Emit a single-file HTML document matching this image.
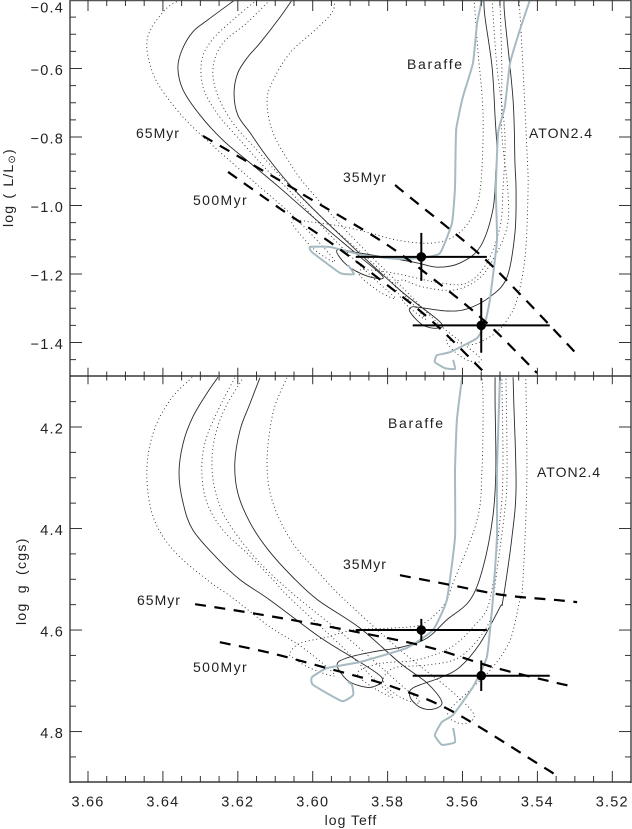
<!DOCTYPE html>
<html>
<head>
<meta charset="utf-8">
<title>log Teff diagrams</title>
<style>
html,body{margin:0;padding:0;background:#fff;}
svg{display:block;}
text{font-family:"Liberation Sans",sans-serif;fill:#222;font-size:14px;letter-spacing:1px;}
text.tick{font-size:14.5px;letter-spacing:1.2px;}
</style>
</head>
<body>
<svg id="chart" xmlns="http://www.w3.org/2000/svg" width="632" height="829" viewBox="0 0 632 829">
  <defs>
    <clipPath id="clip-top"><rect x="70" y="0" width="561" height="376"></rect></clipPath>
    <clipPath id="clip-bot"><rect x="70" y="376" width="561" height="406"></rect></clipPath>
  </defs>
  <rect x="0" y="0" width="632" height="829" fill="#fff"></rect>
  <g id="top-curves" clip-path="url(#clip-top)"></g>
  <g id="bot-curves" clip-path="url(#clip-bot)"></g>
  <g id="axes"></g>
  <g id="errors"></g>
  <g id="ticklabels"></g>

  <text transform="translate(13,227) rotate(-90)" style="letter-spacing:1.2px;word-spacing:1px">log ( L/L<tspan font-size="10" dy="2">⊙</tspan><tspan dy="-2">)</tspan></text>
  <text transform="translate(26,625) rotate(-90)" style="letter-spacing:1.3px;word-spacing:4px">log g (cgs)</text>
  <text x="351" y="825" text-anchor="middle">log Teff</text>

  <text x="407" y="69" style="letter-spacing:1.7px">Baraffe</text>
  <text x="529" y="138">ATON2.4</text>
  <text x="343" y="182">35Myr</text>
  <text x="136" y="138">65Myr</text>
  <text x="193" y="205" style="letter-spacing:1.4px">500Myr</text>
  <text x="388" y="428" style="letter-spacing:1.7px">Baraffe</text>
  <text x="537" y="477">ATON2.4</text>
  <text x="343" y="569">35Myr</text>
  <text x="137" y="605">65Myr</text>
  <text x="193" y="672" style="letter-spacing:1.4px">500Myr</text>
</svg>
<script>
// ---- Tick labels
const xTickValues = [3.66, 3.64, 3.62, 3.60, 3.58, 3.56, 3.54, 3.52];
const yTopTickValues = [-0.4, -0.6, -0.8, -1.0, -1.2, -1.4];
const yBotTickValues = [4.2, 4.4, 4.6, 4.8];

// ---- Observed stars
const starTeff = [3.571, 3.555];
const starTeffErr = [0.0175, 0.0183];
const starLogL = [-1.15, -1.35];
const starLogLErr = [0.07, 0.08];
const starLogG = [4.60, 4.69];
const starLogGErr = [0.022, 0.03];

// ---- Top panel: [log Teff, log L]
const topSolid1 = [[3.6208,-.4],[3.6280,-.458],[3.6320,-.493],[3.6349,-.546],[3.6360,-.599],[3.6346,-.663],[3.6301,-.736],[3.6240,-.809],[3.6167,-.876],[3.6087,-.949],[3.5981,-1.051],[3.5879,-1.145],[3.5812,-1.209],[3.5855,-1.206],[3.5909,-1.174],[3.5935,-1.130],[3.5874,-1.139],[3.5732,-1.165],[3.5668,-1.180],[3.5607,-1.168],[3.5553,-1.121],[3.5519,-1.013],[3.5511,-.896],[3.5508,-.838],[3.5513,-.742],[3.5521,-.596],[3.5540,-.450],[3.5543,-.4]];
const topSolid2 = [[3.6055,-.4],[3.6087,-.450],[3.6141,-.526],[3.6173,-.566],[3.6200,-.613],[3.6210,-.672],[3.6200,-.736],[3.6167,-.788],[3.6122,-.858],[3.6053,-.949],[3.5927,-1.086],[3.5767,-1.247],[3.5660,-1.340],[3.5668,-1.358],[3.5706,-1.349],[3.5740,-1.311],[3.5735,-1.296],[3.5706,-1.299],[3.5642,-1.308],[3.5588,-1.302],[3.5527,-1.267],[3.5481,-1.209],[3.5460,-1.080],[3.5457,-.955],[3.5460,-.876],[3.5465,-.692],[3.5487,-.450],[3.5489,-.4]];
const topDotted1 = [[3.6354,-.4],[3.6389,-.423],[3.6429,-.479],[3.6443,-.526],[3.6434,-.590],[3.6408,-.654],[3.6346,-.742],[3.6274,-.818],[3.6202,-.888],[3.6141,-.946],[3.6061,-1.022],[3.5981,-1.110],[3.5941,-1.165],[3.5994,-1.130],[3.6047,-1.066],[3.6053,-1.042],[3.6007,-1.048],[3.5927,-1.060],[3.5847,-1.080],[3.5775,-1.101],[3.5687,-1.110],[3.5625,-1.092],[3.5580,-1.042],[3.5553,-.955],[3.5545,-.742],[3.5559,-.546],[3.5569,-.4]];
const topDotted2 = [[3.6149,-.4],[3.6213,-.458],[3.6269,-.517],[3.6296,-.575],[3.6293,-.654],[3.6256,-.730],[3.6194,-.809],[3.6122,-.896],[3.6069,-.949],[3.5954,-1.086],[3.5847,-1.203],[3.5780,-1.270],[3.5820,-1.253],[3.5868,-1.212],[3.5874,-1.188],[3.5786,-1.197],[3.5660,-1.226],[3.5588,-1.226],[3.5535,-1.168],[3.5500,-1.063],[3.5492,-.955],[3.5487,-.788],[3.5508,-.596],[3.5521,-.4]];
const topDotted3 = [[3.6114,-.4],[3.6176,-.467],[3.6240,-.526],[3.6266,-.596],[3.6256,-.672],[3.6213,-.759],[3.6149,-.838],[3.6069,-.934],[3.5954,-1.057],[3.5820,-1.188],[3.5700,-1.329],[3.5754,-1.285],[3.5780,-1.232],[3.5759,-1.218],[3.5706,-1.238],[3.5625,-1.247],[3.5561,-1.218],[3.5519,-1.159],[3.5481,-1.063],[3.5479,-.955],[3.5495,-.788],[3.5495,-.596],[3.5500,-.4]];
const topDotted4 = [[3.5941,-.4],[3.5949,-.438],[3.5999,-.493],[3.6061,-.555],[3.6109,-.642],[3.6122,-.701],[3.6106,-.788],[3.6061,-.876],[3.6015,-.946],[3.5900,-1.086],[3.5767,-1.232],[3.5660,-1.349],[3.5553,-1.445],[3.5580,-1.454],[3.5620,-1.428],[3.5642,-1.393],[3.5580,-1.407],[3.5519,-1.378],[3.5481,-1.334],[3.5455,-1.276],[3.5433,-1.150],[3.5425,-.955],[3.5428,-.838],[3.5441,-.546],[3.5449,-.4]];
const topGray1 = [[3.5548,-.4],[3.5561,-.467],[3.5572,-.584],[3.5599,-.683],[3.5617,-.780],[3.5620,-.946],[3.5628,-1.051],[3.5660,-1.139],[3.5706,-1.153],[3.5775,-1.156],[3.5866,-1.145],[3.5954,-1.121],[3.6007,-1.121],[3.6002,-1.136],[3.5927,-1.197],[3.5890,-1.200],[3.5906,-1.174]];
const topGray2 = [[3.5420,-.4],[3.5447,-.488],[3.5473,-.584],[3.5487,-.712],[3.5505,-.788],[3.5511,-.955],[3.5508,-1.101],[3.5527,-1.276],[3.5540,-1.343],[3.5561,-1.387],[3.5633,-1.428],[3.5668,-1.437],[3.5674,-1.457],[3.5647,-1.475],[3.5620,-1.477],[3.5625,-1.451]];
const topIso35 = [[3.5780,-.940],[3.5748,-.969],[3.5561,-1.136],[3.5439,-1.267],[3.5300,-1.428]];
const topIso65 = [[3.6293,-.797],[3.6053,-.949],[3.6015,-.975],[3.5812,-1.107],[3.5668,-1.223],[3.5535,-1.343],[3.5401,-1.489]];
const topIso500 = [[3.6226,-.902],[3.6173,-.943],[3.6074,-1.019],[3.5954,-1.107],[3.5812,-1.223],[3.5679,-1.340],[3.5535,-1.495]];

// ---- Bottom panel: [log Teff, log g]
const botSolid1 = [[3.6253,4.102],[3.6282,4.133],[3.6320,4.180],[3.6346,4.232],[3.6357,4.291],[3.6346,4.350],[3.6320,4.403],[3.6256,4.458],[3.6194,4.501],[3.6114,4.541],[3.5981,4.614],[3.5892,4.655],[3.5815,4.694],[3.5839,4.712],[3.5874,4.710],[3.5909,4.698],[3.5935,4.669],[3.5909,4.655],[3.5839,4.643],[3.5759,4.633],[3.5695,4.616],[3.5642,4.580],[3.5580,4.541],[3.5545,4.476],[3.5519,4.377],[3.5511,4.285],[3.5513,4.153],[3.5513,4.102]];
const botSolid2 = [[3.6141,4.103],[3.6167,4.153],[3.6194,4.206],[3.6208,4.271],[3.6200,4.330],[3.6167,4.389],[3.6119,4.442],[3.6053,4.496],[3.5986,4.541],[3.5874,4.596],[3.5767,4.665],[3.5695,4.704],[3.5655,4.742],[3.5679,4.756],[3.5714,4.752],[3.5740,4.732],[3.5732,4.714],[3.5660,4.694],[3.5607,4.673],[3.5553,4.626],[3.5500,4.555],[3.5492,4.541],[3.5468,4.417],[3.5457,4.318],[3.5463,4.153],[3.5465,4.102]];
const botDotted1 = [[3.6322,4.102],[3.6381,4.147],[3.6426,4.212],[3.6443,4.291],[3.6426,4.377],[3.6373,4.442],[3.6282,4.501],[3.6213,4.537],[3.6114,4.594],[3.6026,4.635],[3.5941,4.689],[3.6007,4.675],[3.6055,4.653],[3.6061,4.645],[3.6034,4.626],[3.5962,4.614],[3.5892,4.600],[3.5786,4.596],[3.5714,4.590],[3.5668,4.566],[3.5642,4.541],[3.5625,4.507],[3.5561,4.383],[3.5548,4.285],[3.5545,4.153],[3.5548,4.102]];
const botDotted2 = [[3.6208,4.103],[3.6256,4.172],[3.6288,4.232],[3.6296,4.291],[3.6282,4.350],[3.6240,4.403],[3.6176,4.448],[3.6106,4.501],[3.6061,4.537],[3.5927,4.629],[3.5834,4.698],[3.5786,4.732],[3.5828,4.718],[3.5874,4.694],[3.5874,4.679],[3.5812,4.665],[3.5722,4.659],[3.5633,4.635],[3.5572,4.594],[3.5527,4.541],[3.5500,4.383],[3.5492,4.285],[3.5495,4.102]];
const botDotted3 = [[3.6189,4.107],[3.6240,4.172],[3.6266,4.239],[3.6266,4.304],[3.6240,4.369],[3.6186,4.429],[3.6122,4.482],[3.6039,4.537],[3.5900,4.620],[3.5780,4.698],[3.5714,4.742],[3.5762,4.734],[3.5807,4.708],[3.5807,4.689],[3.5775,4.673],[3.5695,4.669],[3.5607,4.653],[3.5535,4.594],[3.5519,4.541],[3.5508,4.482],[3.5487,4.364],[3.5481,4.285],[3.5484,4.102]];
const botDotted4 = [[3.6069,4.103],[3.6106,4.172],[3.6122,4.271],[3.6106,4.350],[3.6053,4.429],[3.5973,4.496],[3.5914,4.541],[3.5767,4.639],[3.5633,4.718],[3.5572,4.763],[3.5580,4.781],[3.5612,4.783],[3.5639,4.763],[3.5580,4.718],[3.5519,4.673],[3.5473,4.620],[3.5447,4.541],[3.5441,4.527],[3.5433,4.417],[3.5428,4.285],[3.5431,4.102]];
const botGray1 = [[3.5601,4.102],[3.5615,4.186],[3.5620,4.285],[3.5620,4.417],[3.5642,4.541],[3.5679,4.600],[3.5748,4.635],[3.5874,4.663],[3.5962,4.675],[3.6002,4.693],[3.5999,4.708],[3.5922,4.740],[3.5892,4.728],[3.5895,4.708],[3.5906,4.702]];
const botGray2 = [[3.5500,4.102],[3.5508,4.285],[3.5508,4.417],[3.5519,4.541],[3.5535,4.653],[3.5572,4.712],[3.5625,4.767],[3.5655,4.781],[3.5674,4.807],[3.5655,4.826],[3.5620,4.821],[3.5625,4.793]];
const botIso35 = [[3.5767,4.492],[3.5633,4.511],[3.5492,4.531],[3.5348,4.541],[3.5294,4.545]];
const botIso65 = [[3.6314,4.549],[3.6135,4.570],[3.5909,4.600],[3.5695,4.633],[3.5519,4.673],[3.5361,4.702],[3.5313,4.710]];
const botIso500 = [[3.6248,4.624],[3.6114,4.645],[3.5962,4.675],[3.5786,4.712],[3.5625,4.761],[3.5393,4.866],[3.5350,4.886]];

// ---- Axis scales
function xPos(t){ return (3.6835 - t) * 3745; }
function yTop(l){ return (-0.4 - l) * 342.5; }
function yBot(g){ return 427 + (g - 4.2) * 507.6; }

const NS = 'http://www.w3.org/2000/svg';
function mk(tag, parent, attrs){
  const el = document.createElementNS(NS, tag);
  for (const k in attrs) el.setAttribute(k, attrs[k]);
  parent.appendChild(el);
  return el;
}
function smoothPath(pts, div){
  let d = 'M' + pts[0][0].toFixed(2) + ' ' + pts[0][1].toFixed(2);
  for (let i = 0; i < pts.length - 1; i++){
    const p0 = pts[Math.max(i-1,0)], p1 = pts[i], p2 = pts[i+1], p3 = pts[Math.min(i+2,pts.length-1)];
    const c1x = p1[0] + (p2[0]-p0[0])/div, c1y = p1[1] + (p2[1]-p0[1])/div;
    const c2x = p2[0] - (p3[0]-p1[0])/div, c2y = p2[1] - (p3[1]-p1[1])/div;
    d += 'C' + c1x.toFixed(2) + ' ' + c1y.toFixed(2) + ' ' + c2x.toFixed(2) + ' ' + c2y.toFixed(2) + ' ' + p2[0].toFixed(2) + ' ' + p2[1].toFixed(2);
  }
  return d;
}
const STYLES = {
  solid: {stroke:'#2a2a2a','stroke-width':0.9,fill:'none'},
  dotted:{stroke:'#2a2a2a','stroke-width':0.9,fill:'none','stroke-dasharray':'1 2.8'},
  gray:  {stroke:'#a6bac2','stroke-width':2,fill:'none','stroke-linejoin':'round'},
  iso:   {stroke:'#000','stroke-width':2.2,fill:'none','stroke-dasharray':'11 8.5'}
};
const TIGHTNESS = {solid:6, dotted:6, gray:14, iso:6};
function drawSeries(parent, name, data, yFn, style){
  const el = mk('path', parent, Object.assign({d: smoothPath(data.map(function(p){ return [xPos(p[0]), yFn(p[1])]; }), TIGHTNESS[style])}, STYLES[style]));
  
  
}
const topG = document.getElementById('top-curves');
const botG = document.getElementById('bot-curves');
drawSeries(topG,'top-dotted-track-1',topDotted1,yTop,'dotted');
drawSeries(topG,'top-dotted-track-2',topDotted2,yTop,'dotted');
drawSeries(topG,'top-dotted-track-3',topDotted3,yTop,'dotted');
drawSeries(topG,'top-dotted-track-4',topDotted4,yTop,'dotted');
drawSeries(topG,'top-solid-track-1',topSolid1,yTop,'solid');
drawSeries(topG,'top-solid-track-2',topSolid2,yTop,'solid');
drawSeries(topG,'top-baraffe-track-1',topGray1,yTop,'gray');
drawSeries(topG,'top-baraffe-track-2',topGray2,yTop,'gray');
drawSeries(topG,'top-isochrone-35myr',topIso35,yTop,'iso');
drawSeries(topG,'top-isochrone-65myr',topIso65,yTop,'iso');
drawSeries(topG,'top-isochrone-500myr',topIso500,yTop,'iso');
drawSeries(botG,'bottom-dotted-track-1',botDotted1,yBot,'dotted');
drawSeries(botG,'bottom-dotted-track-2',botDotted2,yBot,'dotted');
drawSeries(botG,'bottom-dotted-track-3',botDotted3,yBot,'dotted');
drawSeries(botG,'bottom-dotted-track-4',botDotted4,yBot,'dotted');
drawSeries(botG,'bottom-solid-track-1',botSolid1,yBot,'solid');
drawSeries(botG,'bottom-solid-track-2',botSolid2,yBot,'solid');
drawSeries(botG,'bottom-baraffe-track-1',botGray1,yBot,'gray');
drawSeries(botG,'bottom-baraffe-track-2',botGray2,yBot,'gray');
drawSeries(botG,'bottom-isochrone-35myr',botIso35,yBot,'iso');
drawSeries(botG,'bottom-isochrone-65myr',botIso65,yBot,'iso');
drawSeries(botG,'bottom-isochrone-500myr',botIso500,yBot,'iso');

// ---- Observed points with error bars
const errG = document.getElementById('errors');
function drawStar(i, yFn, yVals, yErr, panel){
  const cx = xPos(starTeff[i]), cy = yFn(yVals[i]);
  const h = mk('line', errG, {x1:xPos(starTeff[i]+starTeffErr[i]), x2:xPos(starTeff[i]-starTeffErr[i]), y1:cy, y2:cy, stroke:'#000','stroke-width':2});
  
  
  const v = mk('line', errG, {x1:cx, x2:cx, y1:yFn(yVals[i]+yErr[i]), y2:yFn(yVals[i]-yErr[i]), stroke:'#000','stroke-width':2});
  
  
  const c = mk('circle', errG, {cx:cx, cy:cy, r:4.8, fill:'#000'});
  
  
}
for (let i = 0; i < starTeff.length; i++){
  drawStar(i, yTop, starLogL, starLogLErr, 'top');
  drawStar(i, yBot, starLogG, starLogGErr, 'bottom');
}

// ---- Axes and ticks
const axG = document.getElementById('axes');
const PL = 70, PR = 631, PT = 0.5, PM = 376, PB = 782;
function axLine(name, x1, y1, x2, y2, col, w){
  const l = mk('line', axG, {x1:x1, y1:y1, x2:x2, y2:y2, stroke:col, 'stroke-width':w});
  
  
}
axLine('left-axis', PL, 0, PL, PB+1, '#777', 2);
axLine('right-axis', PR, 0, PR, PB+1, '#777', 2);
axLine('top-axis', PL, PT, PR, PT, '#555', 1.5);
axLine('middle-axis', PL, PM, PR, PM, '#111', 1.3);
axLine('bottom-axis', PL, PB, PR, PB, '#111', 1.3);
const tickCol = '#333';
for (let k = 0; k <= 30; k++){
  const t = 3.66 - k * 0.005;
  const major = k % 4 === 0;
  const x = xPos(t);
  const len = major ? 11 : 6;
  if (x > PR) continue;
  axLine('x-tick-top', x, 0, x, len, tickCol, 1);
  axLine('x-tick-middle-up', x, PM - len*0.75, x, PM, tickCol, 1);
  axLine('x-tick-middle-down', x, PM, x, PM + len*0.75, tickCol, 1);
  axLine('x-tick-bottom', x, PB - len, x, PB, tickCol, 1);
}
for (let k = 1; k <= 21; k++){
  const y = yTop(-0.4 - k * 0.05);
  if (y >= PM) break;
  const len = k % 4 === 0 ? 12 : 6;
  axLine('y-tick-top-left', PL, y, PL + len, y, tickCol, 1);
  axLine('y-tick-top-right', PR - len, y, PR, y, tickCol, 1);
}
for (let k = -1; k <= 14; k++){
  const y = yBot(4.2 + k * 0.05);
  if (y >= PB) break;
  const len = k % 4 === 0 ? 12 : 6;
  axLine('y-tick-bottom-left', PL, y, PL + len, y, tickCol, 1);
  axLine('y-tick-bottom-right', PR - len, y, PR, y, tickCol, 1);
}

// ---- Tick labels
const tlG = document.getElementById('ticklabels');
xTickValues.forEach(function(v){
  const tx = mk('text', tlG, {x:xPos(v), y:806.5, 'text-anchor':'middle', 'class':'tick'});
  
  
  tx.textContent = v.toFixed(2);
});
yTopTickValues.forEach(function(v){
  const yy = Math.max(yTop(v) + 6.5, 12.5);
  const tx = mk('text', tlG, {x:64, y:yy, 'text-anchor':'end', 'class':'tick'});
  
  
  tx.textContent = '\u2212' + Math.abs(v).toFixed(1);
});
yBotTickValues.forEach(function(v){
  const tx = mk('text', tlG, {x:64, y:yBot(v) + 6.5, 'text-anchor':'end', 'class':'tick'});
  
  
  tx.textContent = v.toFixed(1);
});
</script>
</body>
</html>
